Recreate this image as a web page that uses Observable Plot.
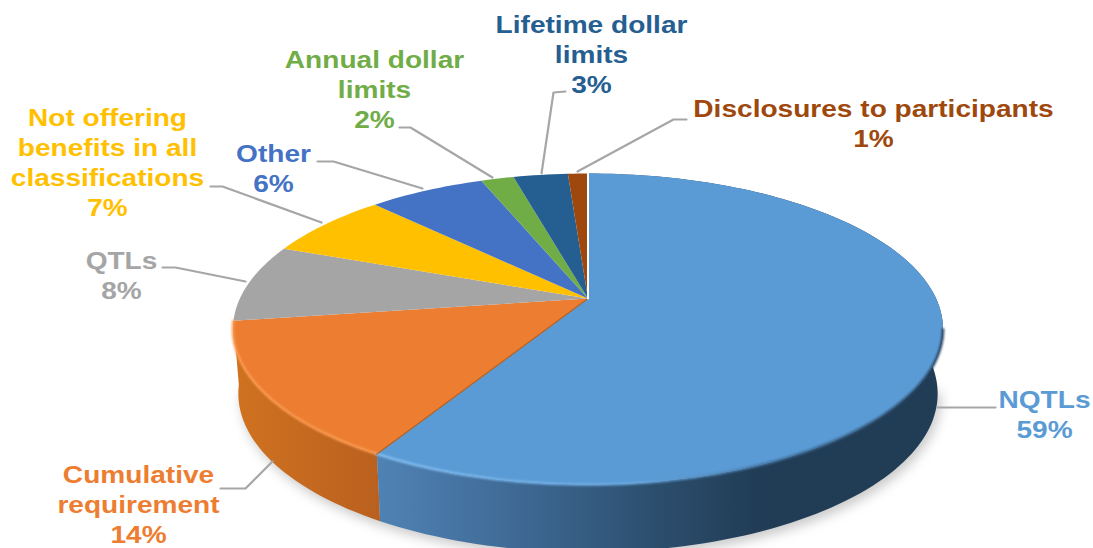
<!DOCTYPE html>
<html>
<head>
<meta charset="utf-8">
<script src="https://cdn.jsdelivr.net/npm/d3@7"></script>
<script src="https://cdn.jsdelivr.net/npm/@observablehq/plot@0.6"></script>
<style>
html,body{margin:0;padding:0;background:#fff}
svg{display:block}
.shadow{filter:blur(6px)}
.bevel{filter:blur(.9px)}
</style>
</head>
<body>
<script>
// Data (clockwise from 12 o'clock)
const categories = ["NQTLs","Cumulative\nrequirement","QTLs","Not offering\nbenefits in all\nclassifications","Other","Annual dollar\nlimits","Lifetime dollar\nlimits","Disclosures to participants"];
const percentLabels = [59,14,8,7,6,2,3,1];           // as printed on the chart
const values = [58.4,14.3,8.1,6.9,6.4,1.8,3,1.1];    // wedge sizes as measured on the rim
const colors = ["#5b9bd5","#ed7d31","#a5a5a5","#ffc000","#4472c4","#70ad47","#255e91","#9e480e"];
// Label layout
const labelX = [1044,138,121,107,273,374,591,873];
const labelY = [413,503,274,161,167,88,53,122];
const leaderX = [[937,995],[272,245,220],[245,175,162],[321,222,210],[422,333,317],[492,410,399],[541,553,565],[577,673,686]];
const leaderY = [[407,407],[461,488,488],[281,267,267],[222,186,186],[188,161,161],[177,127,127],[173,92,91],[171,119,119]];

// Pie geometry: a projected disc
const W=1093,H=548,cx=587.5,cy=298,rimTop=173,rimBottom=484,rMax=355;
const persp=(rimTop+rimBottom-2*cy)/(rimBottom-rimTop);
const rimB=cy-rimTop*(1+persp);
const rimA=rMax*Math.sqrt(1-persp*persp);
function rim(frac){
  const t=frac*2*Math.PI,u=Math.sin(t),v=-Math.cos(t),d=1-persp*v;
  return {x:cx+rimA*u/d,y:(cy+rimB*v)/d};
}
const lower=pt=>({x:cx+(pt.x-cx)*0.985,y:cy+(pt.y-cy)*1.02+64});
const total=d3.sum(values);
let acc=0;
const slices=categories.map((name,i)=>{
  const a0=acc/total;acc+=values[i];const a1=acc/total;
  const n=Math.max(4,Math.ceil((a1-a0)*240));
  const arc=d3.range(n+1).map(j=>rim(a0+(a1-a0)*j/n));
  return {name,i,a0,a1,arc,color:colors[i]};
});
const facePts=slices.flatMap(s=>[{x:cx,y:cy,name:s.name,color:s.color},...s.arc.map(q=>({...q,name:s.name,color:s.color}))]);
const sidePoly=arc=>[...arc,...arc.map(lower).reverse()];
const orangeWall=slices[1].arc;
const allRim=d3.range(241).map(j=>rim(j/240));
const shadow=allRim.filter(q=>q.y>320).map(lower).map(q=>({x:q.x+3,y:q.y+5}));
const frontRimBlue=slices[0].arc.filter(q=>q.y>325);
const frontRimOrange=slices[1].arc;
const labels=slices.map((s,i)=>({text:s.name+"\n"+percentLabels[i]+"%",x:labelX[i],y:labelY[i],color:s.color}));
const leaders=leaderX.flatMap((xs,i)=>xs.map((x,j)=>({x,y:leaderY[i][j],i})));
const wedgeGap=[{x:cx,y:cy},rim(0)];
const xy={x:"x",y:"y"};

const chart=Plot.plot({
  width:W,height:H,margin:0,
  x:{domain:[0,W],range:[0,W],axis:null},
  y:{domain:[0,H],range:[0,H],axis:null},
  color:{type:"identity"},
  marks:[
    Plot.line(shadow,{...xy,fill:"#9a9a9a",fillOpacity:.55,stroke:"none",className:"shadow"}),
    Plot.line(sidePoly(orangeWall),{...xy,fill:"url(#sideOrange)",stroke:"none"}),
    Plot.line(sidePoly(slices[0].arc),{...xy,fill:"url(#sideBlue)",stroke:"none"}),
    Plot.line(facePts,{...xy,z:"name",fill:"color",stroke:"none"}),
    Plot.line(frontRimOrange,{...xy,stroke:"#fb9a50",strokeWidth:2.5,className:"bevel"}),
    Plot.line(frontRimBlue,{...xy,stroke:"url(#rimBlue)",strokeWidth:2.5,className:"bevel"}),
    Plot.line([{x:cx,y:cy},slices[1].arc[0]],{...xy,stroke:"#b5611f",strokeWidth:1.2}),
    Plot.line(wedgeGap,{...xy,stroke:"#ffffff",strokeWidth:2}),
    Plot.line(leaders,{...xy,z:"i",stroke:"#a6a6a6",strokeWidth:2.2}),
    Plot.text(labels,{x:"x",y:"y",text:"text",fill:"color",fontSize:24,fontWeight:"bold",fontFamily:"Liberation Sans, Arial, sans-serif",lineHeight:1.25,textAnchor:"middle",className:"lab"})
  ]
});
chart.insertAdjacentHTML("afterbegin",`<defs>
<linearGradient id="sideBlue" gradientUnits="userSpaceOnUse" x1="380" x2="760" y1="0" y2="0">
<stop offset="0" stop-color="#4f82b4"/><stop offset=".35" stop-color="#3f6a95"/><stop offset=".7" stop-color="#2d5070"/><stop offset="1" stop-color="#213c55"/></linearGradient>
<linearGradient id="sideOrange" gradientUnits="userSpaceOnUse" x1="232" x2="382" y1="0" y2="0">
<stop offset="0" stop-color="#d0721f"/><stop offset="1" stop-color="#b9601f"/></linearGradient>
<linearGradient id="rimBlue" gradientUnits="userSpaceOnUse" x1="380" x2="945" y1="0" y2="0">
<stop offset="0" stop-color="#82bdf2"/><stop offset=".45" stop-color="#6aa8e0"/><stop offset=".7" stop-color="#3f6f9a"/><stop offset="1" stop-color="#223e58"/></linearGradient>
</defs>`);
// The reference's lettering is stretched horizontally
chart.querySelectorAll("g.lab text, text.lab").forEach(t=>{
  const m=t.getAttribute("transform")||"";
  t.setAttribute("transform",(m+" scale(1.17,1)").trim());
});
document.body.appendChild(chart);
</script>
</body>
</html>
